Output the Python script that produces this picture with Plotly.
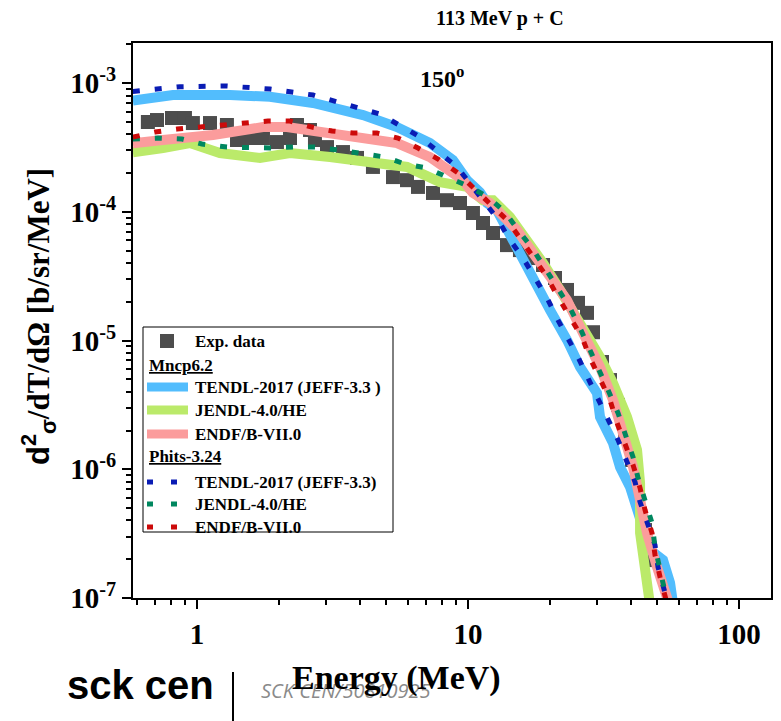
import plotly.graph_objects as go

# ---------------- data ----------------
exp_E = [0.659, 0.712, 0.809, 0.903, 0.966, 1.117, 1.29, 1.405, 1.569, 1.752, 1.973, 2.204, 2.339,
         2.612, 2.725, 3.018, 3.457, 3.894, 4.46, 5.287, 5.956, 6.538, 7.428, 8.367, 9.344, 10.43,
         11.36, 12.37, 13.93, 15.55, 17.38, 18.92, 20.94, 23.19, 25.46, 27.49, 28.93, 31.23, 33.42,
         35.77, 37.97, 40.29, 42.41, 44.99, 46.94]
exp_v = [4.98e-4, 5.16e-4, 5.35e-4, 5.35e-4, 4.89e-4, 4.89e-4, 4.72e-4, 3.61e-4, 3.74e-4, 3.74e-4,
         3.48e-4, 3.74e-4, 4.72e-4, 4.32e-4, 3.61e-4, 3.18e-4, 2.91e-4, 2.62e-4, 2.23e-4, 1.86e-4,
         1.76e-4, 1.56e-4, 1.40e-4, 1.23e-4, 1.17e-4, 9.78e-5, 8.18e-5, 6.84e-5, 5.51e-5, 5.04e-5,
         4.37e-5, 3.86e-5, 3.06e-5, 2.47e-5, 1.96e-5, 1.64e-5, 1.16e-5, 6.81e-6, 4.93e-6, 3.16e-6,
         2.02e-6, 1.18e-6, 5.77e-7, 3.37e-7, 1.97e-7]

mc_tendl_E = [0.58, 0.59, 0.815, 1.324, 1.859, 2.68, 4.10, 5.47, 7.24, 8.80, 9.92, 11.07, 11.75, 12.79,
              13.93, 14.66, 15.96, 17.98, 20.08, 23.19, 25.90, 29.92, 30.70, 34.28, 36.39, 39.62,
              43.14, 46.94, 52.43, 55.67, 57.11]
mc_tendl_v = [7.3e-4, 7.34e-4, 8.07e-4, 8.07e-4, 7.83e-4, 7.00e-4, 5.64e-4, 4.55e-4, 3.42e-4, 2.52e-4,
              1.76e-4, 1.42e-4, 1.17e-4, 1.03e-4, 7.22e-5, 6.37e-5, 4.22e-5, 2.60e-5, 1.72e-5, 1.01e-5,
              6.22e-6, 3.91e-6, 2.55e-6, 1.60e-6, 1.04e-6, 7.28e-7, 4.26e-7, 2.36e-7, 1.97e-7, 1.31e-7,
              9.0e-8]

mc_jendl_E = [0.58, 0.59, 0.749, 0.942, 1.216, 1.708, 2.204, 3.096, 4.348, 5.956, 7.884, 9.915, 11.36,
              12.37, 14.29, 16.51, 18.92, 21.85, 25.25, 30.70, 34.28, 38.62, 42.05, 43.14, 43.14,
              45.76, 46.9]
mc_jendl_v = [2.9e-4, 2.91e-4, 3.13e-4, 3.42e-4, 2.86e-4, 2.62e-4, 2.86e-4, 2.66e-4, 2.48e-4, 2.23e-4,
              1.70e-4, 1.56e-4, 1.23e-4, 1.23e-4, 9.10e-5, 6.03e-5, 4.00e-5, 2.47e-5, 1.52e-5, 7.44e-6,
              4.68e-6, 2.55e-6, 1.41e-6, 7.82e-7, 3.20e-7, 1.56e-7, 9.0e-8]

mc_endf_E = [0.58, 0.59, 0.749, 1.146, 1.752, 2.148, 3.096, 4.348, 5.47, 7.241, 9.584, 10.43, 12.05,
             13.13, 15.16, 17.38, 20.08, 23.19, 26.57, 30.70, 34.28, 37.33, 40.65, 43.14, 45.76,
             49.82, 54.25, 55.2]
mc_endf_v = [3.4e-4, 3.42e-4, 3.61e-4, 3.95e-4, 4.55e-4, 4.55e-4, 4.02e-4, 3.67e-4, 3.42e-4, 2.66e-4,
             1.76e-4, 1.40e-4, 1.17e-4, 9.78e-5, 7.22e-5, 4.78e-5, 3.11e-5, 2.06e-5, 1.14e-5, 6.22e-6,
             3.45e-6, 1.91e-6, 1.04e-6, 5.77e-7, 3.20e-7, 1.74e-7, 1.02e-7, 9.0e-8]

ph_tendl_E = [0.58, 0.866, 1.29, 1.859, 2.68, 3.286, 4.735, 6.651, 9.109, 11.36, 12.79, 14.29, 15.96,
              17.67, 19.57, 21.48, 23.39, 25.46, 27.72, 30.18, 32.86, 35.77, 38.62, 41.34, 43.14,
              46.15, 48.98, 50.24, 53.33, 54.7]
ph_tendl_v = [8.6e-4, 9.36e-4, 9.48e-4, 8.98e-4, 8.07e-4, 7.12e-4, 5.74e-4, 3.81e-4, 2.23e-4, 1.23e-4,
              8.94e-5, 6.03e-5, 4.37e-5, 3.06e-5, 2.14e-5, 1.44e-5, 1.05e-5, 7.44e-6, 5.11e-6, 3.58e-6,
              2.50e-6, 1.69e-6, 1.14e-6, 7.96e-7, 5.57e-7, 3.82e-7, 2.58e-7, 1.74e-7, 1.11e-7, 9.0e-8]

ph_jendl_E = [0.58, 0.718, 0.88, 1.043, 1.29, 1.529, 1.859, 2.261, 2.725, 3.314, 3.995, 4.941, 5.855,
              7.058, 8.367, 10.17, 11.85, 13.70, 15.29, 17.23, 19.24, 21.48, 23.79, 25.90, 28.20,
              30.70, 32.86, 35.77, 37.97, 40.65, 42.41, 44.99, 47.75, 48.98, 51.11, 53.33, 54.3]
ph_jendl_v = [3.67e-4, 3.74e-4, 3.67e-4, 3.36e-4, 3.18e-4, 3.13e-4, 3.13e-4, 3.18e-4, 3.18e-4, 3.02e-4,
              2.86e-4, 2.66e-4, 2.35e-4, 2.19e-4, 1.86e-4, 1.56e-4, 1.30e-4, 9.96e-5, 7.22e-5, 5.23e-5,
              3.66e-5, 2.56e-5, 1.79e-5, 1.25e-5, 8.44e-6, 5.90e-6, 4.13e-6, 2.74e-6, 1.85e-6, 1.24e-6,
              8.55e-7, 5.57e-7, 3.82e-7, 2.49e-7, 1.74e-7, 1.11e-7, 9.0e-8]

ph_endf_E = [0.58, 0.70, 0.844, 1.026, 1.247, 1.529, 1.828, 2.204, 2.657, 3.149, 3.764, 4.615, 5.517,
             6.538, 7.751, 9.186, 10.43, 12.05, 13.93, 15.55, 17.38, 19.57, 21.48, 23.79, 26.34,
             28.20, 30.70, 33.42, 35.47, 37.97, 40.65, 43.14, 44.99, 47.75, 48.98, 51.11, 53.33, 54.3]
ph_endf_v = [3.8e-4, 4.16e-4, 4.39e-4, 4.55e-4, 4.72e-4, 4.89e-4, 5.07e-4, 5.07e-4, 4.55e-4, 4.24e-4,
             4.09e-4, 4.09e-4, 3.74e-4, 3.13e-4, 2.57e-4, 2.00e-4, 1.56e-4, 1.17e-4, 8.63e-5, 6.26e-5,
             4.45e-5, 3.11e-5, 2.18e-5, 1.52e-5, 1.06e-5, 7.31e-6, 4.93e-6, 3.45e-6, 2.29e-6, 1.60e-6,
             1.08e-6, 7.15e-7, 4.83e-7, 3.20e-7, 2.16e-7, 1.46e-7, 1.02e-7, 9.0e-8]

# axis ticks
x_tickvals = [1, 10, 100]
x_ticktext = ["<b>1</b>", "<b>10</b>", "<b>100</b>"]
x_minor = [0.6, 0.7, 0.8, 0.9, 2, 3, 4, 5, 6, 7, 8, 9, 20, 30, 40, 50, 60, 70, 80, 90]
y_tickvals = [1e-7, 1e-6, 1e-5, 1e-4, 1e-3]
y_ticktext = ["<b>10<sup>-7</sup></b>", "<b>10<sup>-6</sup></b>", "<b>10<sup>-5</sup></b>",
              "<b>10<sup>-4</sup></b>", "<b>10<sup>-3</sup></b>"]
y_minor = [m * 10.0 ** e for e in (-7, -6, -5, -4) for m in range(2, 10)] + [2e-3]

# legend entries
legend_rows = [
    ("marker", "Exp. data", "#4d4d4d"),
    ("header", "Mncp6.2", None),
    ("solid", "TENDL-2017 (JEFF-3.3 )", "#52bdfd"),
    ("solid", "JENDL-4.0/HE", "#bbea6a"),
    ("solid", "ENDF/B-VII.0", "#fb9c9c"),
    ("header", "Phits-3.24", None),
    ("dot", "TENDL-2017 (JEFF-3.3)", "#0a1cb4"),
    ("dot", "JENDL-4.0/HE", "#00875f"),
    ("dot", "ENDF/B-VII.0", "#cc0a0a"),
]

SERIF = "Liberation Serif, Times New Roman, serif"
SANS = "Liberation Sans, Arial, sans-serif"

fig = go.Figure()

fig.add_trace(go.Scatter(x=exp_E, y=exp_v, mode="markers",
                         marker=dict(symbol="square", size=14, color="#4d4d4d", line=dict(width=0)),
                         showlegend=False))

solid = [(mc_tendl_E, mc_tendl_v, "#52bdfd"), (mc_jendl_E, mc_jendl_v, "#bbea6a"),
         (mc_endf_E, mc_endf_v, "#fb9c9c")]
for xs, ys, c in solid:
    fig.add_trace(go.Scatter(x=xs, y=ys, mode="lines", line=dict(color=c, width=10),
                             showlegend=False))

dotted = [(ph_tendl_E, ph_tendl_v, "#0a1cb4"), (ph_jendl_E, ph_jendl_v, "#00875f"),
          (ph_endf_E, ph_endf_v, "#cc0a0a")]
for xs, ys, c in dotted:
    fig.add_trace(go.Scatter(x=xs, y=ys, mode="lines", line=dict(color=c, width=5, dash="7px,15px"),
                             showlegend=False))

# ---- manual legend (pixel -> paper conversion) ----
L, R, T, B = 133, 771, 43, 598
def px(x):
    return (x - L) / (R - L)
def py(y):
    return (B - y) / (B - T)

shapes = [dict(type="rect", xref="paper", yref="paper", x0=px(143), x1=px(393), y0=py(532), y1=py(327),
               line=dict(color="black", width=1), fillcolor="white", layer="above")]
annotations = []
row_y = [341, 365, 387, 410, 434, 457, 482, 504, 527]
for (kind, label, color), yy in zip(legend_rows, row_y):
    if kind == "header":
        annotations.append(dict(xref="paper", yref="paper", x=px(147), y=py(yy), xanchor="left",
                                yanchor="middle", showarrow=False, text="<b><u>%s</u></b>" % label,
                                font=dict(family=SERIF, size=17, color="black")))
        continue
    if kind == "marker":
        shapes.append(dict(type="rect", xref="paper", yref="paper", x0=px(160), x1=px(174),
                           y0=py(yy + 7), y1=py(yy - 7), line=dict(width=0), fillcolor=color,
                           layer="above"))
    elif kind == "solid":
        shapes.append(dict(type="line", xref="paper", yref="paper", x0=px(147), x1=px(188),
                           y0=py(yy), y1=py(yy), line=dict(color=color, width=9), layer="above"))
    else:
        shapes.append(dict(type="line", xref="paper", yref="paper", x0=px(147), x1=px(188),
                           y0=py(yy), y1=py(yy), line=dict(color=color, width=5, dash="6px,18px"),
                           layer="above"))
    annotations.append(dict(xref="paper", yref="paper", x=px(193), y=py(yy), xanchor="left",
                            yanchor="middle", showarrow=False, text="<b>%s</b>" % label,
                            font=dict(family=SERIF, size=17, color="black")))

# titles and labels
annotations += [
    dict(xref="paper", yref="paper", x=px(500), y=py(18), xanchor="center", yanchor="middle",
         showarrow=False, text="<b>113 MeV p + C</b>", font=dict(family=SERIF, size=20, color="black")),
    dict(xref="paper", yref="paper", x=px(418), y=py(77), xanchor="left", yanchor="middle",
         showarrow=False, text="<b>150<sup>o</sup></b>", font=dict(family=SERIF, size=24, color="black")),
    dict(xref="paper", yref="paper", x=px(346), y=py(690), xanchor="center", yanchor="middle",
         showarrow=False, text="<i>SCK CEN/50810925</i>",
         font=dict(family="Open Sans, sans-serif", size=20, color="#8a8a8a")),
    dict(xref="paper", yref="paper", x=px(396), y=py(678), xanchor="center", yanchor="middle",
         showarrow=False, text="<b>Energy (MeV)</b>", font=dict(family=SERIF, size=34, color="black")),
    dict(xref="paper", yref="paper", x=px(38), y=py(317), xanchor="center", yanchor="middle",
         textangle=-90, showarrow=False,
         text="<b><span style='font-family:Liberation Sans'>d<sup>2</sup><sub>σ</sub></span>/dT/dΩ [b/sr/MeV]</b>",
         font=dict(family=SERIF, size=31, color="black")),
    dict(xref="paper", yref="paper", x=px(140), y=py(685), xanchor="center", yanchor="middle",
         showarrow=False, text="<b>sck cen</b>", font=dict(family=SANS, size=40, color="black")),
]
shapes.append(dict(type="line", xref="paper", yref="paper", x0=px(233), x1=px(233), y0=py(672),
                   y1=py(721), line=dict(color="black", width=2)))

axis_common = dict(type="log", showgrid=False, zeroline=False, automargin=False,
                   showline=True, linecolor="black", linewidth=2, mirror=True,
                   ticks="outside", ticklen=9, tickwidth=2, tickcolor="black",
                   tickfont=dict(family=SERIF, size=29, color="black"))

fig.update_layout(
    width=781, height=721,
    margin=dict(l=L, r=781 - R, t=T, b=721 - B, autoexpand=False),
    paper_bgcolor="white", plot_bgcolor="white",
    showlegend=False,
    shapes=shapes, annotations=annotations,
    xaxis=dict(range=[-0.236, 2.118], tickmode="array", tickvals=x_tickvals, ticktext=x_ticktext,
               minor=dict(tickmode="array", tickvals=x_minor, ticks="outside", ticklen=5,
                          tickwidth=1.5, tickcolor="black", showgrid=False),
               **axis_common),
    yaxis=dict(range=[-7, -2.689], tickmode="array", tickvals=y_tickvals, ticktext=y_ticktext,
               minor=dict(tickmode="array", tickvals=y_minor, ticks="outside", ticklen=5,
                          tickwidth=1.5, tickcolor="black", showgrid=False),
               **axis_common),
)

fig.write_html("out.html", config={"displayModeBar": False},
               post_script="document.body.style.margin='0';document.body.style.overflow='hidden';")
